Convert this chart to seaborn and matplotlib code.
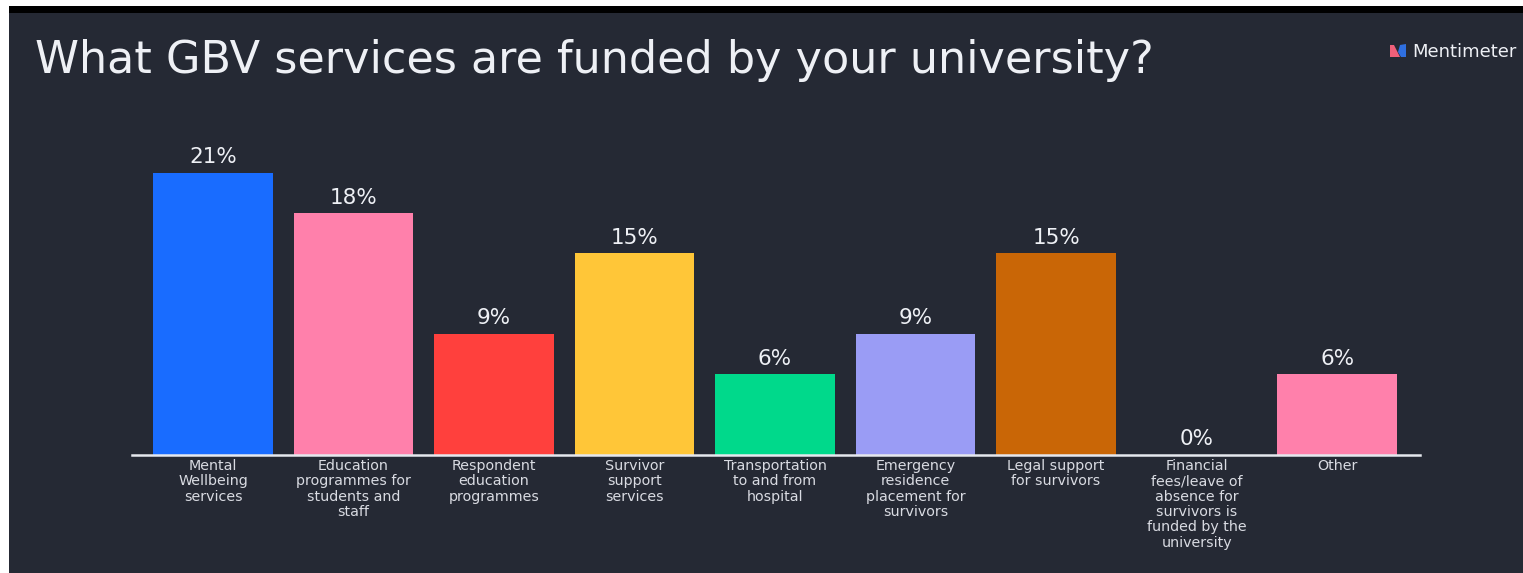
import matplotlib
matplotlib.use("Agg")
import matplotlib.pyplot as plt
from matplotlib.patches import Rectangle, Polygon
import seaborn as sns
import pandas as pd

categories = [
    "Mental\nWellbeing\nservices",
    "Education\nprogrammes for\nstudents and\nstaff",
    "Respondent\neducation\nprogrammes",
    "Survivor\nsupport\nservices",
    "Transportation\nto and from\nhospital",
    "Emergency\nresidence\nplacement for\nsurvivors",
    "Legal support\nfor survivors",
    "Financial\nfees/leave of\nabsence for\nsurvivors is\nfunded by the\nuniversity",
    "Other",
]
shares = [21, 18, 9, 15, 6, 9, 15, 0, 6]
bar_colors = ["#196cff", "#ff80ab", "#ff403d", "#ffc638", "#00d98b",
              "#9a9cf5", "#c96606", "#7fd0c0", "#ff80ab"]

W, H = 1523, 573
PANEL = "#252934"
TEXT = "#eef0f5"

sns.set_theme(style="dark", rc={"font.family": ["DejaVu Sans"]})
fig = plt.figure(figsize=(W / 100, H / 100), dpi=100, facecolor="white")


def px_x(x):
    return x / W


def px_y(y):
    return 1 - y / H


# Slide background with the dark strip along its top edge, kept behind the axes
fig.add_artist(Rectangle((px_x(9), 0), 1 - px_x(9), px_y(13), transform=fig.transFigure,
                         facecolor=PANEL, edgecolor="none", zorder=-2))
fig.add_artist(Rectangle((px_x(9), px_y(13)), 1 - px_x(9), 7 / H, transform=fig.transFigure,
                         facecolor="black", edgecolor="none", zorder=-2))

ax_left, ax_right, ax_top, ax_bottom = 132, 1420, 130, 455
ax = fig.add_axes([px_x(ax_left), px_y(ax_bottom),
                   (ax_right - ax_left) / W, (ax_bottom - ax_top) / H])
ax.patch.set_alpha(0)

frame = pd.DataFrame({"service": categories, "share": shares})
sns.barplot(data=frame, x="service", y="share", hue="service", palette=bar_colors,
            legend=False, width=0.85, saturation=1, ax=ax, linewidth=0)

ax.set_xlim(-0.5765, 8.59)
ax.set_ylim(0, 325 / 13.44)
ax.set_xlabel("")
ax.set_ylabel("")
ax.set_yticks([])
ax.grid(False)
for side in ("top", "left", "right"):
    ax.spines[side].set_visible(False)
ax.spines["bottom"].set_color("#e6e8ee")
ax.spines["bottom"].set_linewidth(1.8)
ax.tick_params(axis="x", length=0, pad=3, labelsize=10.3, labelcolor="#d9dbe2")
for lab in ax.get_xticklabels():
    lab.set_linespacing(1.12)

for i, v in enumerate(shares):
    ax.annotate(f"{v}%", (i, v), xytext=(0, 4), textcoords="offset points",
                ha="center", va="bottom", fontsize=15.5, color=TEXT)

fig.text(px_x(35), px_y(73), "What GBV services are funded by your university?",
         fontsize=32, fontweight="normal", color=TEXT, ha="left", va="baseline")

# Brand mark and wordmark in the top right corner
fig.add_artist(Polygon([(px_x(1390), px_y(57)), (px_x(1390), px_y(45)), (px_x(1394), px_y(45)),
                        (px_x(1400), px_y(57))], transform=fig.transFigure,
                       facecolor="#f0607a", edgecolor="none"))
fig.add_artist(Polygon([(px_x(1398), px_y(52)), (px_x(1400), px_y(45)), (px_x(1406), px_y(44)),
                        (px_x(1406), px_y(57)), (px_x(1401), px_y(57))],
                       transform=fig.transFigure, facecolor="#2f6fe0", edgecolor="none"))
fig.text(px_x(1412), px_y(57), "Mentimeter", fontsize=13, color=TEXT,
         ha="left", va="baseline")

fig.savefig("out.png", dpi=100, facecolor=fig.get_facecolor())
